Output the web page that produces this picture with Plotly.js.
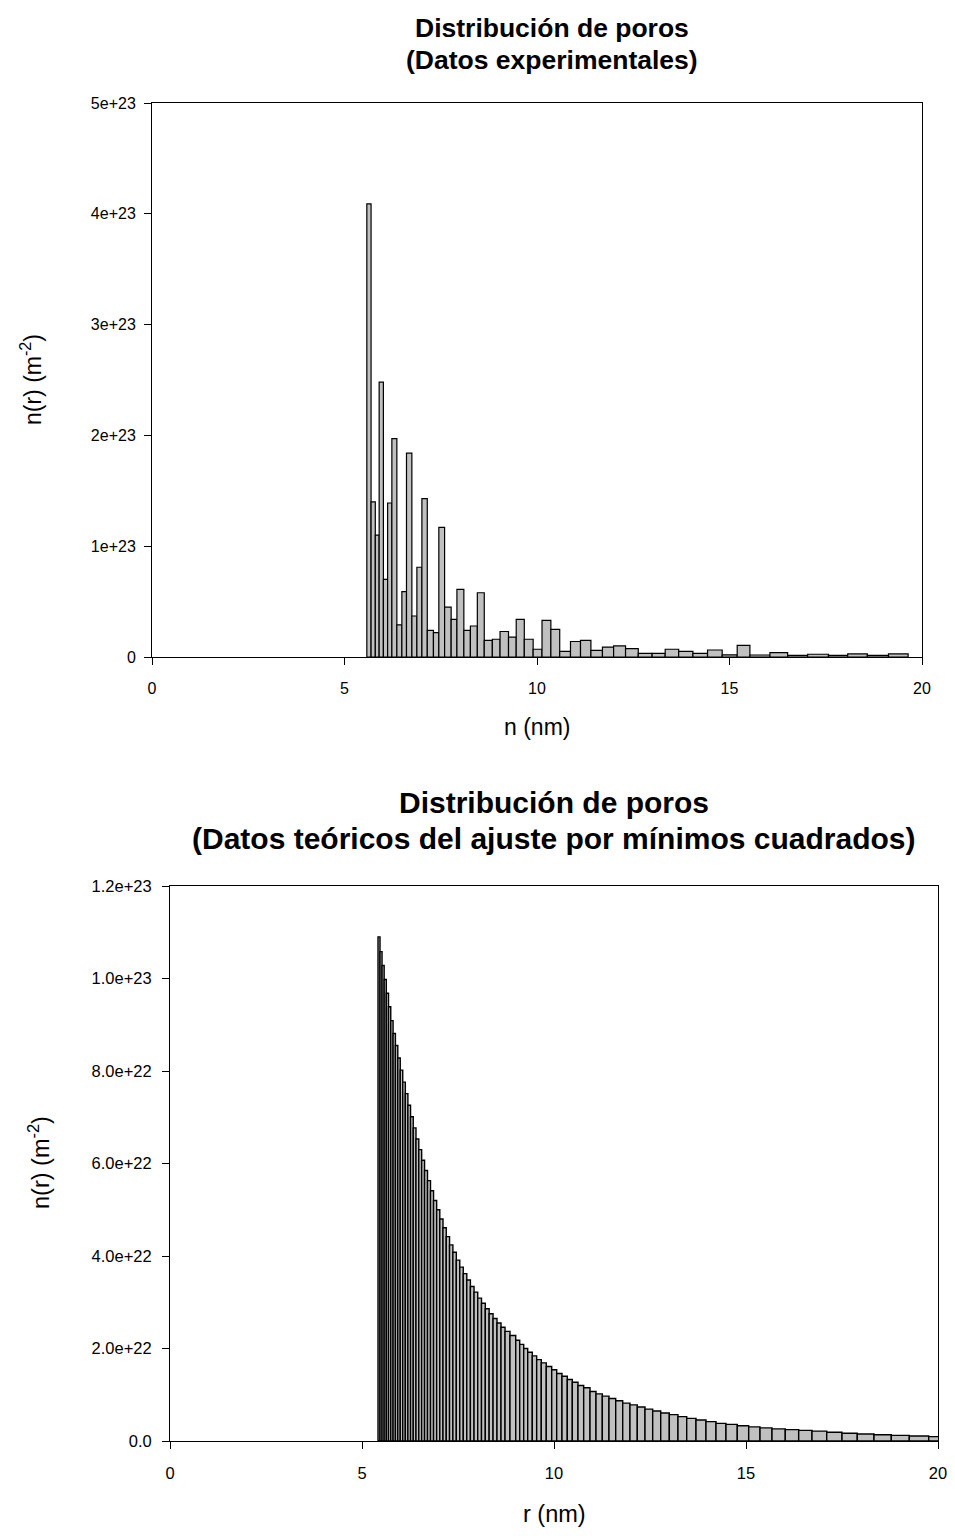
<!DOCTYPE html>
<html><head><meta charset="utf-8">
<script src="https://cdn.plot.ly/plotly-3.0.1.min.js"></script>
<style>html,body{margin:0;padding:0;background:#fff}#chart{width:955px;height:1536px}</style>
</head><body><div id="chart"></div>
<script>
// ---- Experimental pore distribution: bin edges (nm) and n(r) (units of 1e23 m^-2)
const expEdges = [5.58, 5.69, 5.80, 5.90, 6.01, 6.12, 6.23, 6.36, 6.49, 6.61, 6.75, 6.88, 7.01, 7.15, 7.31, 7.45, 7.60, 7.77, 7.92, 8.10, 8.27, 8.45, 8.63, 8.84, 9.04, 9.26, 9.46, 9.67, 9.90, 10.13, 10.36, 10.59, 10.87, 11.13, 11.40, 11.70, 11.99, 12.30, 12.63, 12.99, 13.33, 13.68, 14.05, 14.43, 14.81, 15.20, 15.53, 16.05, 16.51, 17.03, 17.57, 18.07, 18.58, 19.13, 19.64];
const expValues = [4.09, 1.40, 1.10, 2.48, 0.70, 1.39, 1.97, 0.29, 0.59, 1.84,
  0.37, 0.81, 1.43, 0.24, 0.22, 1.17, 0.45, 0.34, 0.61, 0.24,
  0.28, 0.58, 0.15, 0.16, 0.23, 0.18, 0.34, 0.16, 0.07, 0.33,
  0.25, 0.05, 0.14, 0.15, 0.06, 0.09, 0.10, 0.075, 0.033, 0.033,
  0.07, 0.05, 0.033, 0.063, 0.02, 0.105, 0.018, 0.04, 0.015, 0.025,
  0.015, 0.028, 0.015, 0.028];

// ---- Least-squares fit distribution: bin edges (nm) and n(r) (units of 1e23 m^-2)
const fitEdges = [5.417, 5.469, 5.522, 5.577, 5.633, 5.690, 5.749, 5.809, 5.870, 5.932, 5.996, 6.061, 6.128, 6.195, 6.264, 6.335, 6.406, 6.479, 6.553, 6.629, 6.706, 6.784, 6.863, 6.944, 7.026, 7.109, 7.194, 7.280, 7.367, 7.456, 7.546, 7.637, 7.729, 7.823, 7.918, 8.014, 8.112, 8.211, 8.311, 8.413, 8.516, 8.620, 8.725, 8.854,
  9.003, 9.107, 9.211, 9.315, 9.435, 9.549, 9.669, 9.799, 9.940, 10.070, 10.208, 10.346, 10.477, 10.625, 10.773, 10.938, 11.094, 11.258, 11.432, 11.607, 11.789, 11.979, 12.169, 12.370, 12.570, 12.779, 13.003, 13.229, 13.456, 13.698, 13.958, 14.219, 14.479, 14.773, 15.070, 15.365, 15.677, 16.023, 16.372, 16.719, 17.102, 17.500, 17.898, 18.333, 18.784, 19.253, 19.758, 20.279];
const fitValues = [1.090, 1.058, 1.028, 0.998, 0.968, 0.939, 0.909, 0.881, 0.855, 0.828,
  0.802, 0.776, 0.751, 0.726, 0.701, 0.677, 0.653, 0.630, 0.607, 0.585,
  0.563, 0.541, 0.520, 0.500, 0.480, 0.461, 0.442, 0.424, 0.408, 0.391,
  0.376, 0.362, 0.348, 0.334, 0.322, 0.309, 0.298, 0.286, 0.275, 0.265,
  0.255, 0.246, 0.237,
  0.228, 0.218, 0.209, 0.200, 0.192, 0.184, 0.176, 0.169, 0.161, 0.154,
  0.146, 0.140, 0.133, 0.127, 0.120, 0.115, 0.107, 0.102, 0.097, 0.092,
  0.087, 0.082, 0.078, 0.0735, 0.069, 0.065, 0.0605, 0.057, 0.0526, 0.049,
  0.0454, 0.0418, 0.0382, 0.036, 0.0331, 0.0305, 0.0283, 0.0263, 0.0246, 0.0230,
  0.0214, 0.0190, 0.0168, 0.0150, 0.0135, 0.0121, 0.0107, 0.0094];

// ---- Ticks and texts
const xTickVals = [0, 5, 10, 15, 20];
const expYTickVals = [0, 1, 2, 3, 4, 5];
const expYTickText = ['0', '1e+23', '2e+23', '3e+23', '4e+23', '5e+23'];
const fitYTickVals = [0, 0.2, 0.4, 0.6, 0.8, 1.0, 1.2];
const fitYTickText = ['0.0', '2.0e+22', '4.0e+22', '6.0e+22', '8.0e+22', '1.0e+23', '1.2e+23'];
const titleTop = ['Distribución de poros', '(Datos experimentales)'];
const titleBottom = ['Distribución de poros', '(Datos teóricos del ajuste por mínimos cuadrados)'];
const xTitleTop = 'n (nm)';
const xTitleBottom = 'r (nm)';
const yTitle = 'n(r) (m<sup>-2</sup>)';

const FONT = 'Liberation Sans, Arial, sans-serif';
const W = 955, H = 1536;
const px = v => v / W, py = v => (H - v) / H;

function barTrace(edges, vals, xa, ya, lw) {
  const x = [], w = [];
  for (let i = 0; i < vals.length; i++) {
    x.push((edges[i] + edges[i + 1]) / 2);
    w.push(edges[i + 1] - edges[i]);
  }
  return {
    type: 'bar', x: x, y: vals, width: w, xaxis: xa, yaxis: ya,
    marker: {color: '#c0c0c0', line: {color: '#000', width: lw}},
    hoverinfo: 'skip', showlegend: false
  };
}

function axis(extra, size, standoff) {
  return Object.assign({
    showline: true, mirror: true, linecolor: '#000', linewidth: 1,
    ticks: 'outside', ticklen: 7, tickcolor: '#000', tickwidth: 1,
    showgrid: false, zeroline: false, fixedrange: true,
    ticklabelstandoff: standoff,
    tickfont: {family: FONT, size: size, color: '#000'}
  }, extra);
}

function ann(text, x, y, size, extra) {
  return Object.assign({text: text, x: px(x), y: py(y), xref: 'paper', yref: 'paper',
    showarrow: false, xanchor: 'center', yanchor: 'middle',
    font: {family: FONT, size: size, color: '#000'}}, extra || {});
}

const layout = {
  width: W, height: H, margin: {l: 0, r: 0, t: 0, b: 0},
  paper_bgcolor: '#fff', plot_bgcolor: '#fff', bargap: 0,
  font: {family: FONT, color: '#000'},
  xaxis: axis({domain: [px(152), px(922)], range: [0, 20], tickvals: xTickVals, anchor: 'y'}, 16, 10),
  yaxis: axis({domain: [py(657), py(103)], range: [0, 5], tickvals: expYTickVals, ticktext: expYTickText, anchor: 'x'}, 16, 5),
  xaxis2: axis({domain: [px(170), px(938)], range: [0, 20], tickvals: xTickVals, anchor: 'y2'}, 16.5, 10),
  yaxis2: axis({domain: [py(1441), py(886)], range: [0, 1.2], tickvals: fitYTickVals, ticktext: fitYTickText, anchor: 'x2'}, 16.5, 7),
  annotations: [
    ann('<b>' + titleTop[0] + '</b>', 552, 28, 26.5),
    ann('<b>' + titleTop[1] + '</b>', 552, 60, 26.5),
    ann('<b>' + titleBottom[0] + '</b>', 554, 802, 30),
    ann('<b>' + titleBottom[1] + '</b>', 554, 838, 30),
    ann(xTitleTop, 537, 727, 23),
    ann(xTitleBottom, 554, 1514, 23.5),
    ann(yTitle, 31, 380, 23, {textangle: -90}),
    ann(yTitle, 39, 1163, 23.5, {textangle: -90})
  ]
};

Plotly.newPlot('chart', [
  barTrace(expEdges, expValues, 'x', 'y', 1.2),
  barTrace(fitEdges, fitValues, 'x2', 'y2', 1.4)
], layout, {staticPlot: true, displayModeBar: false});
</script>
</body></html>
